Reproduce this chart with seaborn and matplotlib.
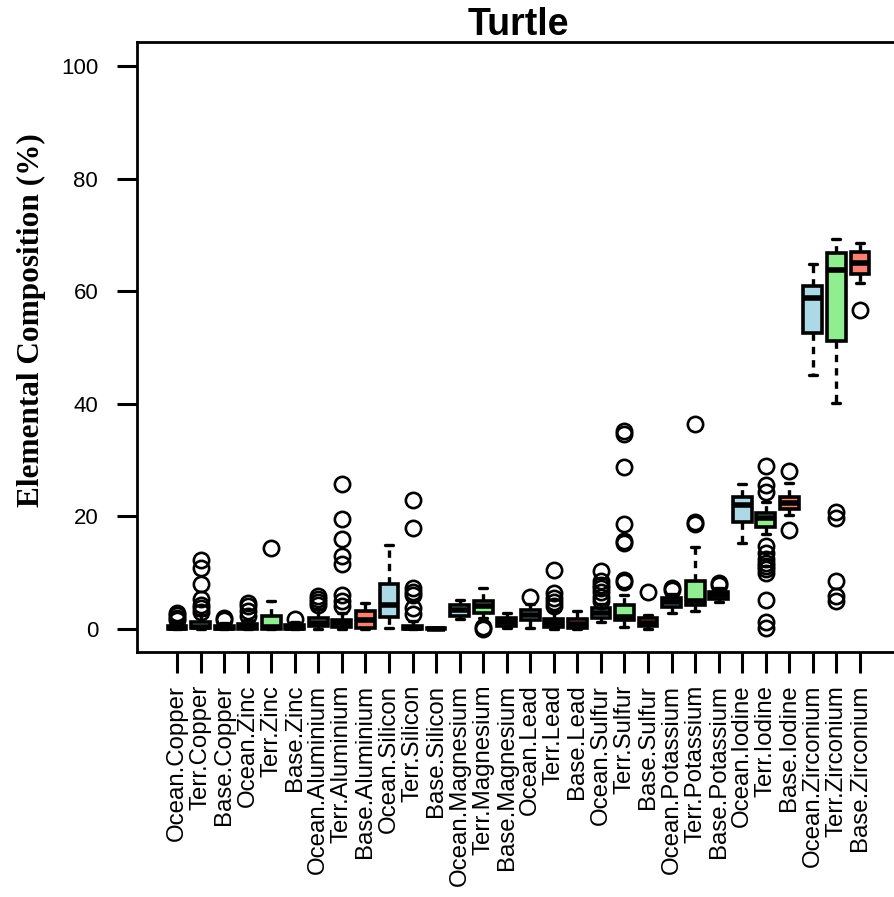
import matplotlib
matplotlib.use("Agg")
import matplotlib.pyplot as plt
import seaborn as sns

# ---------------- data ----------------
categories = [
    "Ocean.Copper", "Terr.Copper", "Base.Copper",
    "Ocean.Zinc", "Terr.Zinc", "Base.Zinc",
    "Ocean.Aluminium", "Terr.Aluminium", "Base.Aluminium",
    "Ocean.Silicon", "Terr.Silicon", "Base.Silicon",
    "Ocean.Magnesium", "Terr.Magnesium", "Base.Magnesium",
    "Ocean.Lead", "Terr.Lead", "Base.Lead",
    "Ocean.Sulfur", "Terr.Sulfur", "Base.Sulfur",
    "Ocean.Potassium", "Terr.Potassium", "Base.Potassium",
    "Ocean.Iodine", "Terr.Iodine", "Base.Iodine",
    "Ocean.Zirconium", "Terr.Zirconium", "Base.Zirconium",
]
whislo = [0.0, 0.0, 0.0, 0.0, 0.0, 0.0, 0.0, 0.0, 0.0, 0.1, 0.0, 0.0,
          1.8, 2.0, 0.1, 0.2, 0.0, 0.0, 1.2, 0.3, 0.0, 2.8, 3.2, 4.8,
          15.2, 16.8, 20.3, 45.2, 40.2, 61.4]
q1 = [0.0, 0.1, 0.0, 0.0, 0.0, 0.0, 0.5, 0.3, 0.2, 2.1, 0.0, 0.0,
      2.3, 2.9, 0.6, 1.6, 0.3, 0.1, 2.0, 1.6, 0.5, 3.9, 4.2, 5.3,
      19.0, 18.2, 21.4, 52.6, 51.2, 63.0]
med = [0.2, 0.4, 0.2, 0.3, 0.4, 0.2, 1.0, 1.0, 1.6, 4.2, 0.2, 0.0,
       3.3, 4.0, 1.2, 2.5, 1.0, 0.8, 2.8, 2.2, 1.1, 4.8, 5.0, 6.0,
       22.0, 19.8, 22.4, 58.8, 63.8, 65.0]
q3 = [0.6, 1.2, 0.6, 0.8, 2.3, 0.7, 2.0, 1.6, 3.2, 8.0, 0.6, 0.1,
      4.2, 5.0, 1.9, 3.4, 1.8, 1.7, 3.7, 4.2, 1.9, 5.5, 8.6, 6.6,
      23.5, 20.6, 23.5, 61.0, 66.8, 67.0]
whishi = [1.2, 2.5, 1.0, 1.5, 5.0, 1.2, 3.5, 2.8, 4.6, 15.0, 1.4, 0.2,
          5.2, 7.3, 2.8, 4.5, 3.2, 3.2, 4.4, 6.0, 2.5, 6.2, 14.5, 7.2,
          25.8, 22.5, 26.0, 64.9, 69.3, 68.6]
outliers = [
    [1.6, 2.0, 2.5, 2.9],
    [3.0, 3.7, 4.3, 5.3, 8.0, 10.8, 12.2],
    [1.5, 1.9],
    [2.3, 3.1, 4.0, 4.6],
    [14.3],
    [1.8],
    [4.3, 4.8, 5.3, 5.9],
    [4.0, 5.0, 6.0, 11.5, 13.0, 16.0, 19.6, 25.7],
    [],
    [],
    [2.6, 3.8, 6.0, 6.6, 7.2, 17.9, 22.9],
    [],
    [],
    [0.0, 0.3],
    [],
    [5.6],
    [4.0, 4.8, 5.5, 6.3, 10.5],
    [],
    [4.9, 5.7, 6.5, 7.2, 7.8, 8.6, 10.3],
    [8.3, 8.7, 15.3, 15.6, 18.6, 28.8, 34.6, 35.2],
    [6.5],
    [6.9, 7.3],
    [18.6, 19.0, 36.5],
    [7.8, 8.2],
    [],
    [0.2, 1.2, 5.2, 10.0, 10.6, 11.2, 11.8, 12.5, 13.5, 14.8, 24.3, 25.5, 29.0],
    [17.6, 28.0],
    [],
    [5.0, 5.8, 8.5, 19.8, 20.8],
    [56.6],
]
yticks = [0, 20, 40, 60, 80, 100]

palette = {"Ocean": "#ADD8E6", "Terr": "#90EE90", "Base": "#FA8072"}

# ---------------- style ----------------
sns.set_style("ticks")
plt.rcParams["font.family"] = ["Liberation Sans", "DejaVu Sans"]
plt.rcParams["text.color"] = "black"
plt.rcParams["axes.labelcolor"] = "black"
plt.rcParams["xtick.color"] = "black"
plt.rcParams["ytick.color"] = "black"
plt.rcParams["axes.edgecolor"] = "black"

W, H = 895, 897
fig = plt.figure(figsize=(W / 100, H / 100), dpi=100)
ax = fig.add_axes([137 / W, (H - 652) / H, 763 / W, 610 / H])

stats = []
for i, c in enumerate(categories):
    stats.append(dict(label=c, q1=q1[i], med=med[i], q3=q3[i],
                      whislo=whislo[i], whishi=whishi[i], fliers=outliers[i]))

bp = ax.bxp(
    stats,
    positions=list(range(len(categories))),
    widths=0.8,
    capwidths=0.34,
    patch_artist=True,
    showfliers=True,
    boxprops=dict(linewidth=2.6, edgecolor="black"),
    medianprops=dict(color="black", linewidth=4.0, solid_capstyle="butt"),
    whiskerprops=dict(color="black", linewidth=2.4, linestyle=(0, (2.2, 1.8))),
    capprops=dict(color="black", linewidth=2.4),
    flierprops=dict(marker="o", markersize=11, markerfacecolor="none",
                    markeredgecolor="black", markeredgewidth=1.9),
)
for patch, c in zip(bp["boxes"], categories):
    patch.set_facecolor(palette[c.split(".")[0]])

ax.set_xlim(-1.70, len(categories) - 1 + 1.70)
ax.set_ylim(-4.1, 104.3)
ax.set_yticks(yticks)
ax.set_yticklabels([str(v) for v in yticks])
ax.set_xticks(list(range(len(categories))))
ax.set_xticklabels(categories, rotation=90, ha="center", va="top")

ax.tick_params(axis="y", length=14.4, width=2.2, pad=13.5, labelsize=16,
               color="black", labelcolor="black")
ax.tick_params(axis="x", length=15, width=2.2, pad=8.5, labelsize=17.3,
               color="black", labelcolor="black")
for s in ax.spines.values():
    s.set_linewidth(2.0)
    s.set_color("black")
ax.spines["right"].set_visible(False)
ax.grid(False)

fig.text(518.5 / W, 1 - 35 / H, "Turtle", ha="center", va="baseline",
         fontsize=27, fontweight="bold", color="black",
         family=["Liberation Sans", "DejaVu Sans"])
fig.text(31 / W, 1 - 320 / H, "Elemental Composition (%)", rotation=90,
         ha="center", va="center", fontsize=22.5, fontweight="bold",
         color="black", family=["Liberation Serif", "DejaVu Serif"])

fig.savefig("out.png", dpi=100)
